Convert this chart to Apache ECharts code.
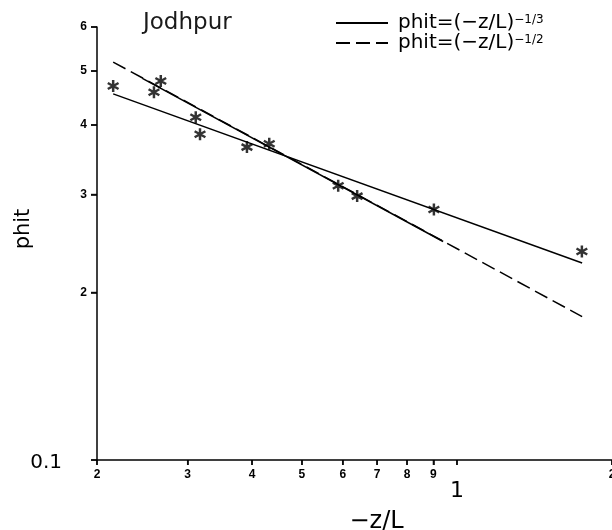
<!DOCTYPE html>
<html>
<head>
<meta charset="utf-8">
<script src="https://cdn.jsdelivr.net/npm/echarts@6/dist/echarts.min.js"></script>
<style>
  html, body { margin: 0; padding: 0; background: #fff; }
  #chart { width: 612px; height: 530px; }
</style>
</head>
<body>
<div id="chart"></div>
<script>
// observed points, -z/L vs phit
const obsX = [0.215, 0.258, 0.266, 0.311, 0.317, 0.391, 0.432, 0.588, 0.640, 0.902, 1.748];
const obsY = [4.70, 4.58, 4.80, 4.13, 3.85, 3.65, 3.70, 3.11, 2.98, 2.82, 2.37];

// end points of the two fitted lines as drawn
const lineThirdX = [0.215, 1.75];
const lineThirdY = [4.55, 2.26];
const lineHalfX = [0.215, 1.75];
const lineHalfY = [5.19, 1.81];
// part of the -1/2 line drawn solid
const halfSolidX = [0.245, 0.94];
const halfSolidY = [4.85, 2.47];

const xTickValues = [0.2, 0.3, 0.4, 0.5, 0.6, 0.7, 0.8, 0.9, 1, 2];
const xTickLabels = ['2', '3', '4', '5', '6', '7', '8', '9', '1', '2'];
const yTickValues = [1, 2, 3, 4, 5, 6];
const yTickLabels = ['0.1', '2', '3', '4', '5', '6'];

const xMin = 0.2, xMax = 2, yMin = 1, yMax = 6;

const legendNames = ['third', 'half'];
const legendExps = { third: '\u22121/3', half: '\u22121/2' };

const ink = '#000';
const pairs = (xs, ys) => xs.map((x, i) => [x, ys[i]]);

// six armed asterisk
const starPath = 'path://M4 0L6 0L6 10L4 10Z' +
  'M1.17 1.63L9.83 6.63L8.83 8.37L0.17 3.37Z' +
  'M0.17 6.63L8.83 1.63L9.83 3.37L1.17 8.37Z';

const tickLabel = (vals, labels) => v => {
  const i = vals.findIndex(t => Math.abs(t - v) < 1e-6);
  const s = i >= 0 ? labels[i] : '';
  return v === 1 ? '{big|' + s + '}' : s;
};

const chart = echarts.init(document.getElementById('chart'));

chart.setOption({
  backgroundColor: '#fff',
  animation: false,
  title: {
    text: 'Jodhpur',
    left: 143,
    top: 12,
    padding: 0,
    textStyle: { fontFamily: 'DejaVu Sans', fontSize: 23, fontWeight: 'normal', color: '#1a1a1a' }
  },
  legend: {
    data: legendNames,
    orient: 'vertical',
    left: 335,
    top: 13,
    padding: 0,
    itemGap: 0,
    itemWidth: 52,
    itemHeight: 14,
    itemStyle: { opacity: 0 },
    formatter: name => '{t|phit=(\u2212z/L)}{s|' + legendExps[name] + '}',
    textStyle: {
      color: ink,
      padding: [0, 0, 0, 5],
      rich: {
        t: { fontFamily: 'DejaVu Sans', fontSize: 20, color: ink, lineHeight: 19 },
        s: { fontFamily: 'DejaVu Sans', fontSize: 12, color: ink, verticalAlign: 'top', lineHeight: 8 }
      }
    }
  },
  grid: { left: 97, right: 0, top: 27, bottom: 70, outerBoundsMode: 'none' },
  xAxis: {
    type: 'log',
    logBase: 10,
    min: xMin,
    max: xMax,
    name: '\u2212z/L',
    nameLocation: 'middle',
    nameGap: 50,
    nameMoveOverlap: false,
    nameTextStyle: { fontFamily: 'DejaVu Sans', fontSize: 24, color: ink, padding: [0, 0, 0, 44] },
    axisLine: { show: true, lineStyle: { color: ink, width: 1.5 } },
    axisTick: { show: true, customValues: xTickValues, length: 5, lineStyle: { color: ink, width: 1.5 } },
    axisLabel: {
      customValues: xTickValues,
      margin: 9,
      color: ink,
      fontFamily: 'Liberation Sans',
      fontWeight: 'bold',
      fontSize: 12,
      formatter: tickLabel(xTickValues, xTickLabels),
      rich: {
        big: { fontFamily: 'DejaVu Sans', fontWeight: 'normal', fontSize: 22, color: ink, padding: [11, 0, 0, 0] }
      }
    },
    splitLine: { show: false },
    minorTick: { show: false }
  },
  yAxis: {
    type: 'log',
    logBase: 10,
    min: yMin,
    max: yMax,
    name: 'phit',
    nameLocation: 'middle',
    nameGap: 63,
    nameRotate: 90,
    nameMoveOverlap: false,
    nameTextStyle: { fontFamily: 'DejaVu Sans', fontSize: 21, color: ink, padding: [0, 0, 0, 29] },
    axisLine: { show: true, lineStyle: { color: ink, width: 1.5 } },
    axisTick: { show: true, customValues: yTickValues, length: 6, lineStyle: { color: ink, width: 1.5 } },
    axisLabel: {
      customValues: yTickValues,
      margin: 10,
      color: ink,
      fontFamily: 'Liberation Sans',
      fontWeight: 'bold',
      fontSize: 12,
      formatter: tickLabel(yTickValues, yTickLabels),
      rich: {
        big: { fontFamily: 'DejaVu Sans', fontWeight: 'normal', fontSize: 20, color: ink, padding: [6, 25, 0, 0] }
      }
    },
    splitLine: { show: false },
    minorTick: { show: false }
  },
  series: [
    {
      name: 'third',
      type: 'line',
      symbol: 'none',
      data: pairs(lineThirdX, lineThirdY),
      lineStyle: { color: ink, width: 1.5 },
      itemStyle: { color: ink },
      z: 3
    },
    {
      name: 'half',
      type: 'line',
      symbol: 'none',
      data: pairs(lineHalfX, lineHalfY),
      lineStyle: { color: ink, width: 1.5, type: [14, 6] },
      itemStyle: { color: ink },
      z: 2
    },
    {
      name: 'half fit range',
      type: 'line',
      symbol: 'none',
      data: pairs(halfSolidX, halfSolidY),
      lineStyle: { color: ink, width: 1.5 },
      itemStyle: { color: ink },
      z: 3
    },
    {
      name: 'observed',
      type: 'scatter',
      symbol: starPath,
      symbolSize: 12,
      data: pairs(obsX, obsY),
      itemStyle: { color: ink },
      z: 4
    },
    // tick marks under the x axis, placed through the axis scale
    {
      name: 'x ticks',
      type: 'scatter',
      silent: true,
      clip: false,
      symbol: 'rect',
      symbolSize: [1.5, 5],
      symbolOffset: [0, 2.5],
      data: xTickValues.map(v => [v, yMin]),
      itemStyle: { color: ink },
      z: 1
    },
    // tick marks left of the y axis
    {
      name: 'y ticks',
      type: 'scatter',
      silent: true,
      clip: false,
      symbol: 'rect',
      symbolSize: [6, 1.5],
      symbolOffset: [-3, 0],
      data: yTickValues.map(v => [xMin, v]),
      itemStyle: { color: ink },
      z: 1
    }
  ]
});
</script>
</body>
</html>
